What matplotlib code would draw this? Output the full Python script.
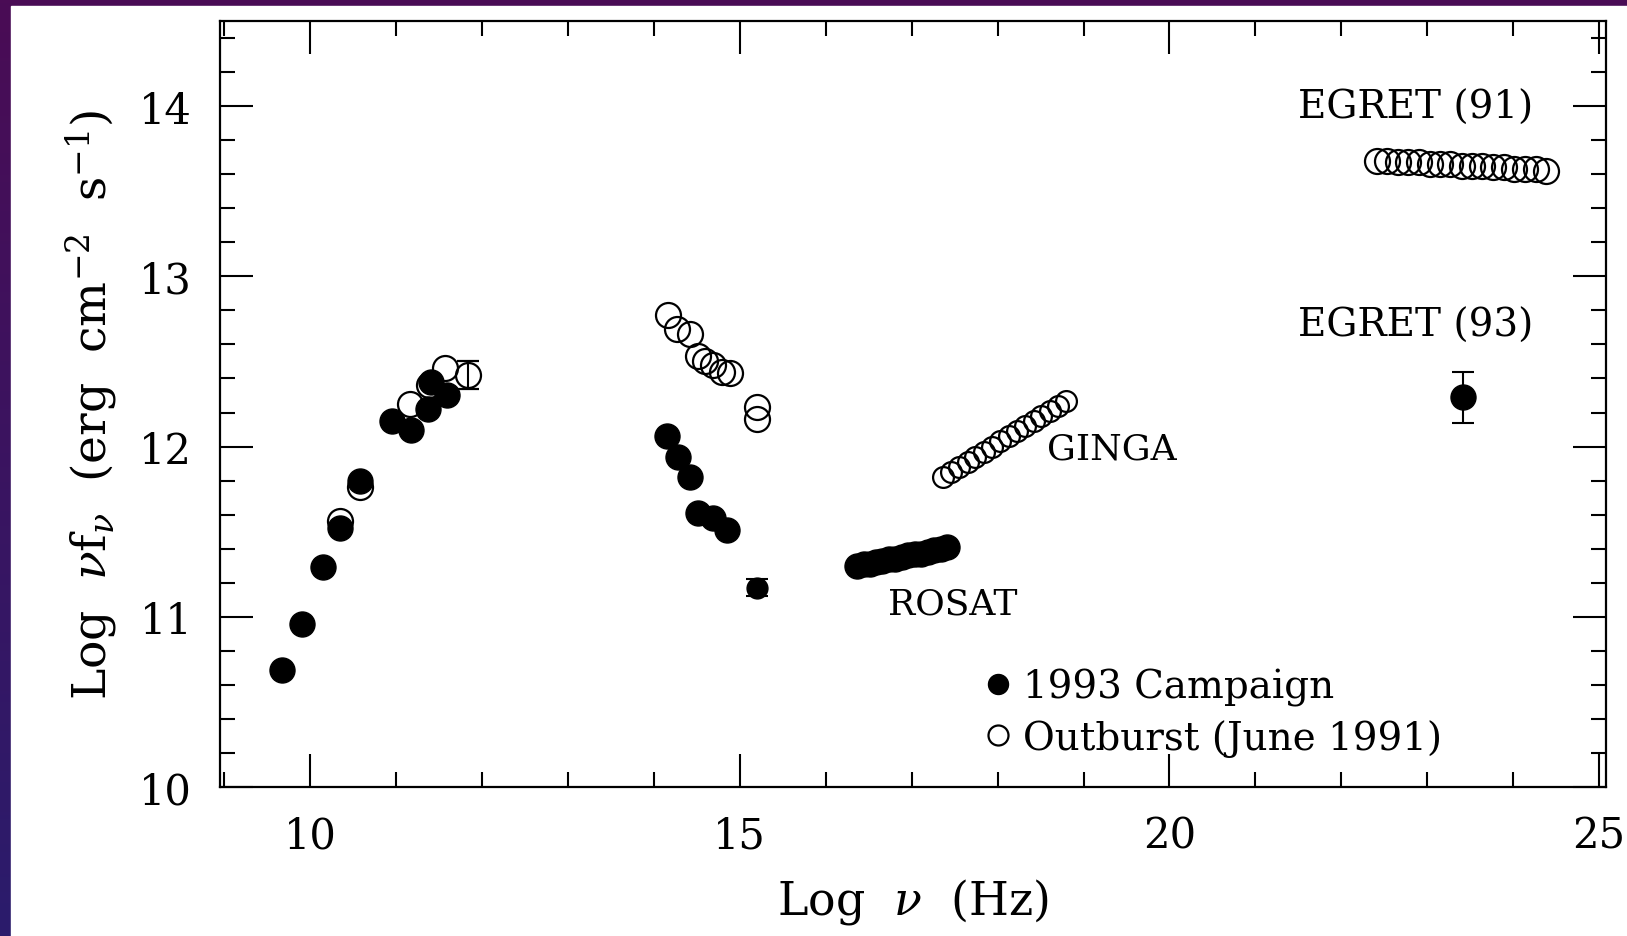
# Broad-band spectral energy distribution: 1993 campaign vs June 1991 outburst
import matplotlib
matplotlib.use("Agg")
import matplotlib.pyplot as plt
from matplotlib.ticker import MultipleLocator
import numpy as np

plt.rcParams['font.family'] = ['DejaVu Serif']
plt.rcParams['mathtext.fontset'] = 'dejavuserif'

# --- 1993 campaign (filled) ---
radio93_x = [9.67, 9.90, 10.15, 10.35, 10.58, 10.95, 11.17, 11.37, 11.40, 11.59]
radio93_y = [10.69, 10.96, 11.29, 11.52, 11.80, 12.15, 12.10, 12.22, 12.38, 12.30]

opt93_x = [14.15, 14.28, 14.42, 14.51, 14.69, 14.85]
opt93_y = [12.06, 11.94, 11.82, 11.61, 11.58, 11.51]

uv93_x, uv93_y, uv93_err = [15.20], [11.17], [0.05]

rosat_x = [16.36, 16.44, 16.51, 16.59, 16.66, 16.74, 16.81, 16.89,
           16.96, 17.04, 17.11, 17.19, 17.26, 17.34, 17.41]
rosat_y = [11.30, 11.31, 11.31, 11.32, 11.33, 11.34, 11.34, 11.35,
           11.36, 11.37, 11.37, 11.38, 11.39, 11.40, 11.41]

egret93_x, egret93_y, egret93_err = [23.41], [12.29], [0.15]

# --- June 1991 outburst (open) ---
radio91_x = [10.35, 10.58, 11.16, 11.38, 11.57]
radio91_y = [11.56, 11.76, 12.25, 12.36, 12.46]
mm91_x, mm91_y, mm91_err = [11.84], [12.42], [0.08]

opt91_x = [14.16, 14.27, 14.42, 14.51, 14.60, 14.69, 14.79, 14.88, 15.20, 15.20]
opt91_y = [12.77, 12.69, 12.66, 12.53, 12.50, 12.48, 12.44, 12.43, 12.23, 12.16]

ginga_x = [17.36, 17.46, 17.55, 17.65, 17.74, 17.84, 17.94, 18.03,
           18.13, 18.22, 18.32, 18.42, 18.51, 18.61, 18.70, 18.80]
ginga_y = [11.82, 11.85, 11.88, 11.91, 11.94, 11.97, 12.00, 12.03,
           12.06, 12.09, 12.12, 12.15, 12.18, 12.21, 12.24, 12.27]

egret91_x = [22.41, 22.53, 22.66, 22.78, 22.90, 23.03, 23.15, 23.27, 23.40,
             23.52, 23.64, 23.77, 23.89, 24.01, 24.14, 24.26, 24.38]
egret91_y = [13.68, 13.68, 13.67, 13.67, 13.67, 13.66, 13.66, 13.66, 13.65,
             13.65, 13.65, 13.64, 13.64, 13.63, 13.63, 13.63, 13.62]

fig = plt.figure(figsize=(16.27, 9.37), dpi=100)

# purple slide frame behind the white page
bg = fig.add_axes([0, 0, 1, 1], zorder=-10)
grad = np.linspace(0, 1, 256).reshape(-1, 1)
bg.imshow(grad, aspect='auto', extent=[0, 1, 0, 1],
          cmap=matplotlib.colors.LinearSegmentedColormap.from_list(
              'slide', ['#4a0c55', '#2b1c6c']))
bg.add_patch(plt.Rectangle((11 / 1627, 0), 1, 1 - 7 / 937, color='white', zorder=2))
bg.set_axis_off()

ax = fig.add_axes([220 / 1627, 1 - 788 / 937, (1606 - 220) / 1627, (788 - 22) / 937])
ax.set_facecolor('none')

ms = 18
ew = 1.6
filled = dict(marker='o', ls='none', color='black', ms=ms, mec='black')
hollow = dict(marker='o', ls='none', mfc='none', mec='black', ms=ms, mew=ew)
bars = dict(ecolor='black', capsize=8, elinewidth=1.5, capthick=1.5)

ax.plot(radio93_x, radio93_y, **filled, zorder=3, label='1993 Campaign')
ax.plot(opt93_x, opt93_y, **filled, zorder=3)
ax.errorbar(uv93_x, uv93_y, yerr=uv93_err, fmt='o', color='black', ms=15,
            zorder=3, **bars)
ax.plot(rosat_x, rosat_y, **filled, zorder=3)
ax.errorbar(egret93_x, egret93_y, yerr=egret93_err, fmt='o', color='black', ms=ms,
            zorder=3, **bars)

ax.plot(radio91_x, radio91_y, **hollow, zorder=4, label='Outburst (June 1991)')
ax.errorbar(mm91_x, mm91_y, yerr=mm91_err, fmt='o', mfc='none', mec='black',
            ms=ms, mew=ew, zorder=4, **bars)
ax.plot(opt91_x, opt91_y, **hollow, zorder=2)
ax.plot(ginga_x, ginga_y, marker='o', ls='none', mfc='none', mec='black',
        ms=15, mew=ew, zorder=2)
ax.plot(egret91_x, egret91_y, **hollow, zorder=2)

ax.text(22.86, 13.99, 'EGRET (91)', ha='center', va='center', fontsize=28)
ax.text(22.86, 12.71, 'EGRET (93)', ha='center', va='center', fontsize=28)
ax.text(18.57, 11.99, 'GINGA', ha='left', va='center', fontsize=26)
ax.text(16.72, 11.08, 'ROSAT', ha='left', va='center', fontsize=26)

ax.legend(loc='upper left', bbox_to_anchor=(0.553, 0.155), frameon=False,
          fontsize=28, handlelength=0.6, handletextpad=0.35, borderpad=0,
          borderaxespad=0, labelspacing=0.33, markerscale=0.8, numpoints=1)

ax.set_xlim(8.95, 25.08)
ax.set_ylim(10, 14.5)
ax.xaxis.set_major_locator(MultipleLocator(5))
ax.xaxis.set_minor_locator(MultipleLocator(1))
ax.yaxis.set_major_locator(MultipleLocator(1))
ax.yaxis.set_minor_locator(MultipleLocator(0.2))
ax.tick_params(which='both', direction='in', top=True, right=True,
               width=1.5, labelsize=30, pad=20)
ax.tick_params(which='major', length=24)
ax.tick_params(which='minor', length=11)
for s in ax.spines.values():
    s.set_linewidth(1.6)

ax.set_xlabel(r'Log  $\nu$  (Hz)', fontsize=33, labelpad=14)
ax.set_ylabel(r'Log  $\nu$f$_\nu$  (erg  cm$^{-2}$  s$^{-1}$)', fontsize=34, labelpad=14)

fig.savefig('out.png', dpi=100)
